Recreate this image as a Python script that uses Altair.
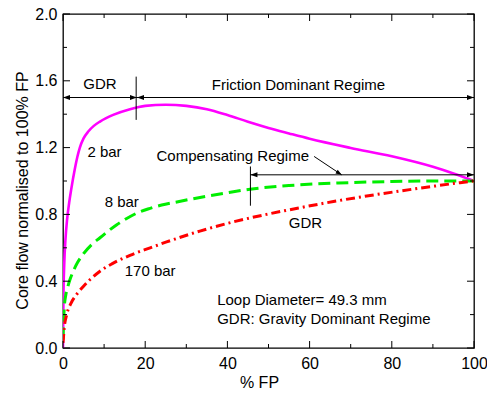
import altair as alt
import pandas as pd

W, H = 411, 334

# ---- data ----
fp_2bar = [0, 0.1, 0.3, 0.6, 1.0, 1.5, 2.0, 2.9, 3.5, 4.1, 5.0, 6.2, 7.5, 9.0, 12.2, 16.3,
           20, 25, 30, 35, 40, 45, 50, 55, 60, 70, 80, 90, 95, 100]
core_2bar = [0, 0.30, 0.50, 0.65, 0.77, 0.87, 0.95, 1.075, 1.145, 1.20, 1.255, 1.298, 1.33,
             1.356, 1.396, 1.43, 1.45, 1.457, 1.45, 1.43, 1.395, 1.355, 1.318, 1.285, 1.253,
             1.198, 1.148, 1.085, 1.045, 1.0]

fp_8bar = [0, 0.3, 0.7, 1.2, 1.7, 2.5, 3.5, 5.0, 7.0, 9.0, 11.0, 13.0, 15.0, 18.0, 21.0, 24.0,
           28.0, 33.0, 40.0, 45.5, 55.0, 67.0, 80.0, 90.0, 100]
core_8bar = [0.05, 0.24, 0.32, 0.37, 0.41, 0.46, 0.51, 0.565, 0.62, 0.66, 0.70, 0.737, 0.768,
             0.808, 0.835, 0.856, 0.876, 0.90, 0.93, 0.951, 0.973, 0.988, 0.997, 1.0, 1.0]

fp_170bar = [0, 0.3, 0.9, 2.0, 3.3, 5.0, 6.6, 9.0, 12.0, 16.3, 21.2, 25.2, 33.3, 41.4, 49.5,
             57.7, 65.8, 73.9, 82.0, 90.0, 96.6, 100]
core_170bar = [0.03, 0.12, 0.20, 0.27, 0.32, 0.37, 0.41, 0.46, 0.505, 0.555, 0.60, 0.635, 0.70,
               0.755, 0.80, 0.84, 0.877, 0.91, 0.94, 0.968, 0.99, 1.0]

x_major = [0, 20, 40, 60, 80, 100]
x_minor = [10, 30, 50, 70, 90]
y_major = [0.0, 0.4, 0.8, 1.2, 1.6, 2.0]
y_minor = [0.2, 0.6, 1.0, 1.4, 1.8]

# annotation line segments (x1, y1) -> (x2, y2)
seg_x1 = [0, 18, 17.8, 45.6, 45.6, 61.1]
seg_y1 = [1.5, 1.5, 1.366, 1.037, 0.852, 1.147]
seg_x2 = [18, 100, 17.8, 100, 45.6, 67.8]
seg_y2 = [1.5, 1.5, 1.625, 1.037, 1.087, 1.037]

# arrow heads
head_left_x = [0, 18, 45.6]
head_left_y = [1.5, 1.5, 1.037]
head_right_x = [18, 100, 100]
head_right_y = [1.5, 1.5, 1.037]
head_diag_x = [67.8]
head_diag_y = [1.037]

# texts
txt_label = ["GDR", "Friction Dominant Regime", "2 bar", "Compensating Regime", "8 bar",
             "GDR", "170 bar"]
txt_x = [9.0, 57.3, 10.1, 41.3, 14.3, 59.0, 21.2]
txt_y = [1.583, 1.575, 1.173, 1.151, 0.872, 0.748, 0.459]
note_label = ["Loop Diameter= 49.3 mm", "GDR: Gravity Dominant Regime"]
note_x = [37.5, 37.5]
note_y = [0.289, 0.175]

FONT = "Liberation Sans"
x_scale = alt.Scale(domain=[0, 100], nice=False, zero=False)
y_scale = alt.Scale(domain=[0, 2], nice=False, zero=False)

x_axis = alt.Axis(values=x_major, ticks=False, tickSize=0, domain=False, grid=False,
                  labelFont=FONT, labelFontSize=16, labelColor="black", labelPadding=20,
                  labelBaseline="alphabetic", labelFlush=False,
                  title="% FP", titleFont=FONT, titleFontSize=16, titleFontWeight="normal",
                  titleColor="black", titleX=196, titleY=39, titleBaseline="alphabetic",
                  titleAlign="center")
y_axis = alt.Axis(values=y_major, format=".1f", ticks=False, tickSize=0, domain=False, grid=False,
                  labelFont=FONT, labelFontSize=16, labelColor="black", labelPadding=6,
                  title="Core flow normalised to 100% FP", titleFont=FONT, titleFontSize=16,
                  titleFontWeight="normal", titleColor="black", titleAngle=-90,
                  titleX=-36, titleY=176, titleBaseline="alphabetic", titleAlign="center")


def X(field):
    return alt.X(field, scale=x_scale, axis=x_axis)


def Y(field):
    return alt.Y(field, scale=y_scale, axis=y_axis)


def curve(xs, ys, color, dash, width):
    df = pd.DataFrame({"fp": xs, "core": ys})
    kw = dict(color=color, strokeWidth=width, interpolate="monotone", clip=True)
    if dash:
        kw["strokeDash"] = dash
    return alt.Chart(df).mark_line(**kw).encode(x=X("fp:Q"), y=Y("core:Q"))


def tick_layer(vals, side, length):
    df = pd.DataFrame({"v": vals})
    if side == "left":
        enc = dict(y=Y("v:Q"), x=alt.value(0), x2=alt.value(length))
    elif side == "right":
        enc = dict(y=Y("v:Q"), x=alt.value(W), x2=alt.value(W - length))
    elif side == "bottom":
        enc = dict(x=X("v:Q"), y=alt.value(H), y2=alt.value(H - length))
    else:
        enc = dict(x=X("v:Q"), y=alt.value(0), y2=alt.value(length))
    return alt.Chart(df).mark_rule(color="black", strokeWidth=1).encode(**enc)


ticks = []
for side in ["left", "right"]:
    ticks.append(tick_layer(y_major, side, 7))
    ticks.append(tick_layer(y_minor, side, 4))
for side in ["bottom", "top"]:
    ticks.append(tick_layer(x_major, side, 7))
    ticks.append(tick_layer(x_minor, side, 4))

segs = alt.Chart(pd.DataFrame({"x1": seg_x1, "y1": seg_y1, "x2": seg_x2, "y2": seg_y2})).mark_rule(
    color="black", strokeWidth=1
).encode(x=X("x1:Q"), x2="x2:Q", y=Y("y1:Q"), y2="y2:Q")

RIGHT_HEAD = "M0,0L-1,-0.36L-1,0.36Z"
LEFT_HEAD = "M0,0L1,-0.36L1,0.36Z"


def heads(xs, ys, shape, size, angle=0):
    return alt.Chart(pd.DataFrame({"x": xs, "y": ys})).mark_point(
        shape=shape, filled=True, color="black", opacity=1, size=size, angle=angle, strokeWidth=0
    ).encode(x=X("x:Q"), y=Y("y:Q"))


texts = alt.Chart(pd.DataFrame({"t": txt_label, "x": txt_x, "y": txt_y})).mark_text(
    font=FONT, fontSize=15, color="black", align="center", baseline="middle"
).encode(x=X("x:Q"), y=Y("y:Q"), text="t:N")
notes = alt.Chart(pd.DataFrame({"t": note_label, "x": note_x, "y": note_y})).mark_text(
    font=FONT, fontSize=15, color="black", align="left", baseline="middle"
).encode(x=X("x:Q"), y=Y("y:Q"), text="t:N")

chart = alt.layer(
    curve(fp_2bar, core_2bar, "#FF00FF", None, 2.6),
    curve(fp_8bar, core_8bar, "#00EE00", [12, 6], 3),
    curve(fp_170bar, core_170bar, "#FF0000", [9, 4, 2, 4], 3),
    *ticks,
    segs,
    heads(head_left_x, head_left_y, LEFT_HEAD, 196),
    heads(head_right_x, head_right_y, RIGHT_HEAD, 196),
    heads(head_diag_x, head_diag_y, RIGHT_HEAD, 144, angle=32),
    texts,
    notes,
).properties(
    width=W, height=H,
    autosize=alt.AutoSizeParams(type="none"),
    padding={"left": 63, "top": 14, "right": 13, "bottom": 47},
    background="white",
).configure_view(stroke="black", strokeWidth=1.3)

chart.save("out.html", embed_options={"renderer": "svg", "actions": False})
